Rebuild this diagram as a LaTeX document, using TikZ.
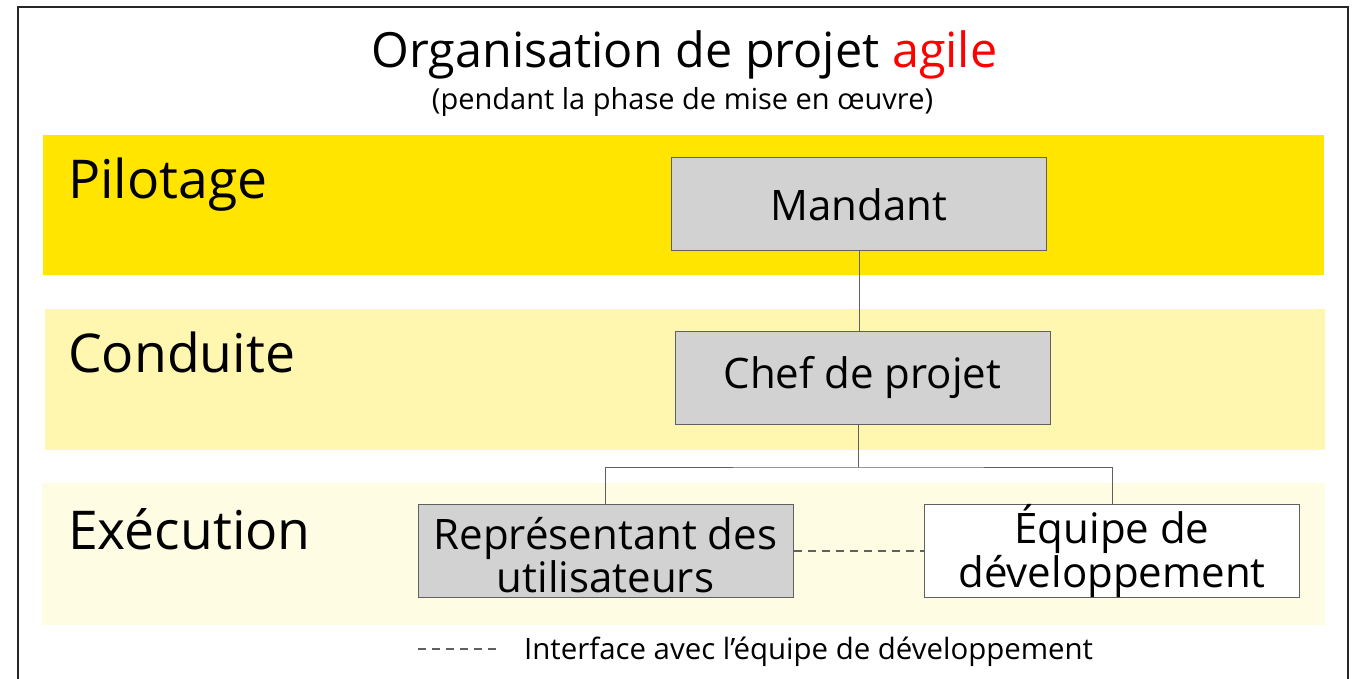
\documentclass[tikz,border=0pt]{standalone}
\usepackage{fontspec}
\setmainfont{Open Sans}
\definecolor{pilot}{HTML}{FFE500}
\definecolor{cond}{HTML}{FFF6B0}
\definecolor{exec}{HTML}{FFFCE4}
\definecolor{boxgray}{HTML}{D2D2D2}
\definecolor{boxline}{HTML}{606060}
\definecolor{agile}{HTML}{FF0000}
\begin{document}
\begin{tikzpicture}[x=1pt,y=-1pt,
  bandlabel/.style={anchor=base west,inner sep=0pt,font=\fontsize{53.5}{58}\selectfont},
  rolebox/.style={draw=boxline,line width=1pt,fill=boxgray,minimum width=375pt,minimum height=93pt,inner sep=0pt,align=center,font=\fontsize{42}{42}\selectfont},
  link/.style={draw=boxline,line width=1pt},
  iface/.style={draw=boxline,line width=1.6pt,dash pattern=on 8pt off 6pt}]
\useasboundingbox (0,0) rectangle (1358,679);
\fill[white] (0,0) rectangle (1358,679);
\draw[line width=2.2pt,black!85] (18,700) -- (18,7) -- (1348,7) -- (1348,700);
% bands
\fill[pilot] (43,135) rectangle (1324,275);
\fill[cond] (45,309) rectangle (1325,450);
\fill[exec] (42,483) rectangle (1325,625);
% title
\node[anchor=base,inner sep=0pt,font=\fontsize{48.5}{52}\selectfont] (title) at (684.5,68) {Organisation de projet \textcolor{agile}{agile}};
\node[anchor=base,inner sep=0pt,font=\fontsize{29}{32}\selectfont] (subtitle) at (682.5,110) {(pendant la phase de mise en œuvre)};
% band labels
\node[bandlabel] (lpilot) at (68,199) {Pilotage};
\node[bandlabel] (lcond) at (68,372) {Conduite};
\node[bandlabel] (lexec) at (68,549) {Exécution};
% role boxes
\node[rolebox] (mandant) at (859,204.5) {Mandant};
\node[rolebox] (chef) at (862.5,377.5) {Chef de projet};
\node[rolebox,font=\fontsize{42}{37}\selectfont] (repr) at (605.5,551) {\rule{0pt}{40pt}Représentant des\\utilisateurs};
\node[rolebox,fill=white,font=\fontsize{42}{44}\selectfont] (equipe) at (1112,551) {Équipe de\\développement};
% connectors
\coordinate (fork) at (858,467);
\draw[link] (mandant.south -| 859,0) -- (chef.north -| 859,0);
\draw[link] (chef.south -| fork) -- (fork);
\draw[link] (repr.north) |- (fork) -| (equipe.north);
\draw[iface] (repr.east) -- (equipe.west);
% legend
\coordinate (lg1) at (418,649);
\coordinate (lg2) at (496,649);
\draw[iface,line width=1.3pt] (lg1) -- (lg2);
\node[anchor=base west,inner sep=0pt,font=\fontsize{29.4}{32}\selectfont] (legend) at (524,659) {Interface avec l’équipe de développement};
\end{tikzpicture}
\end{document}
